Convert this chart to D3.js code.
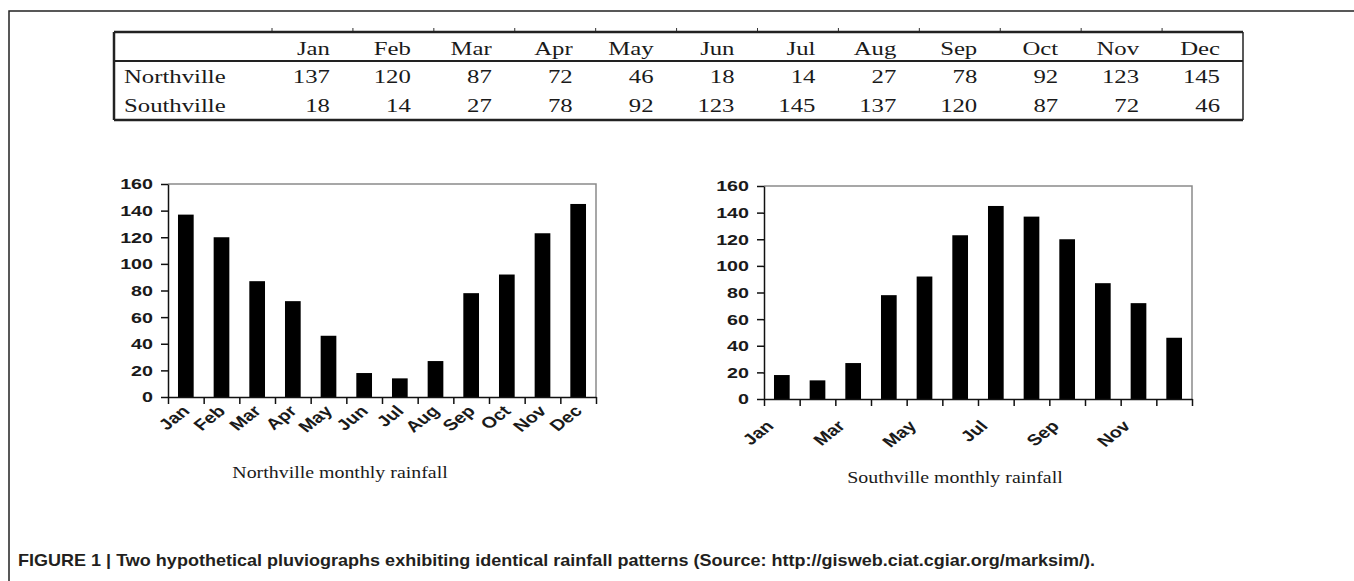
<!DOCTYPE html>
<html><head><meta charset="utf-8">
<script src="https://cdn.jsdelivr.net/npm/d3@7"></script>
<style>html,body{margin:0;padding:0;background:#fff;} svg{display:block;}</style>
</head><body>
<svg id="fig" width="1354" height="581"></svg>
<script>
// ---------- data ----------
const months = ["Jan","Feb","Mar","Apr","May","Jun","Jul","Aug","Sep","Oct","Nov","Dec"];
const northville = [137,120,87,72,46,18,14,27,78,92,123,145];
const southville = [18,14,27,78,92,123,145,137,120,87,72,46];
const rowNames = ["Northville","Southville"];
const yTicks = [0,20,40,60,80,100,120,140,160];
const leftTitle = "Northville monthly rainfall";
const rightTitle = "Southville monthly rainfall";
const captionText = "FIGURE 1 | Two hypothetical pluviographs exhibiting identical rainfall patterns (Source: http://gisweb.ciat.cgiar.org/marksim/).";
const rightLabelEvery = 2;

// ---------- setup ----------
const SX = 1.27; // horizontal stretch of the original raster
const svg = d3.select("#fig");
const ink = "#1a1a1a";
const serif = "'Liberation Serif','Times New Roman',serif";
const sans = "'Liberation Sans',Arial,sans-serif";

// outer frame (top + left)
svg.append("path").attr("d","M1354,11H9V581").attr("fill","none").attr("stroke","#222").attr("stroke-width",1.5);

// ---------- table ----------
const T = {x0:114, x1:1243, y0:32, y1:120, ySep:61, firstCol:272};
const colX = d3.scaleLinear().domain([0, months.length]).range([T.firstCol, T.x1]);
const tg = svg.append("g");
tg.selectAll("line.tk").data(d3.range(0, months.length)).join("line")
  .attr("x1", d=>colX(d)).attr("x2", d=>colX(d)).attr("y1", T.y0-4).attr("y2", T.y0)
  .attr("stroke","#333").attr("stroke-width",1);
tg.append("line").attr("x1",T.x0).attr("x2",T.x1).attr("y1",T.y0).attr("y2",T.y0).attr("stroke","#222").attr("stroke-width",2.5);
tg.append("line").attr("x1",T.x0).attr("x2",T.x1).attr("y1",T.ySep).attr("y2",T.ySep).attr("stroke","#222").attr("stroke-width",2);
tg.append("line").attr("x1",T.x0).attr("x2",T.x1).attr("y1",T.y1).attr("y2",T.y1).attr("stroke","#222").attr("stroke-width",2.5);
tg.append("line").attr("x1",T.x0).attr("x2",T.x0).attr("y1",T.y0).attr("y2",T.y1).attr("stroke","#222").attr("stroke-width",2.5);
tg.append("line").attr("x1",T.x1).attr("x2",T.x1).attr("y1",T.y0).attr("y2",T.y1).attr("stroke","#222").attr("stroke-width",1.5);

function stext(g, x, y, txt, anchor, font, size, weight, extra, sx) {
  return g.append("text")
    .attr("transform", `translate(${x},${y}) scale(${sx||SX},1)` + (extra||""))
    .attr("text-anchor", anchor).attr("font-family", font).attr("font-size", size)
    .attr("font-weight", weight||"normal").attr("fill", ink).text(txt);
}
const tFont = 19.5;
const rowBase = [55, 83, 112];
months.forEach((m,i)=>{
  const xr = colX(i+1) - 23;
  stext(tg, xr, rowBase[0], m, "end", serif, tFont);
  stext(tg, xr, rowBase[1], northville[i], "end", serif, tFont);
  stext(tg, xr, rowBase[2], southville[i], "end", serif, tFont);
});
rowNames.forEach((r,j)=> stext(tg, 124, rowBase[j+1], r, "start", serif, tFont));

// ---------- charts ----------
function drawChart(cfg) {
  const g = svg.append("g");
  const y = d3.scaleLinear().domain([0,160]).range([cfg.yBot, cfg.yTop]);
  const xb = d3.scaleBand().domain(months).range([cfg.x0, cfg.x1]).paddingInner(0.56).paddingOuter(0.28);
  const xi = d3.scaleLinear().domain([0, months.length]).range([cfg.x0, cfg.x1]);

  g.append("path").attr("d",`M${cfg.x0},${cfg.yTop}H${cfg.x1}V${cfg.yBot}`)
    .attr("fill","none").attr("stroke","#8a8a8a").attr("stroke-width",1.5);

  g.selectAll("rect").data(cfg.values).join("rect")
    .attr("x", (d,i)=>xb(months[i])).attr("width", xb.bandwidth())
    .attr("y", d=>y(d)).attr("height", d=>cfg.yBot - y(d)).attr("fill","#000");

  const ya = g.append("g").attr("transform",`translate(${cfg.x0},0)`)
    .call(d3.axisLeft(y).tickValues(yTicks).tickSize(7).tickSizeOuter(0).tickPadding(8));
  ya.select(".domain").attr("stroke","#111").attr("stroke-width",1.5);
  ya.selectAll(".tick line").attr("stroke","#111").attr("stroke-width",1.5);
  ya.selectAll(".tick text").attr("x", -15/SX).attr("transform",`scale(${SX},1)`)
    .attr("font-family", sans).attr("font-size", 15.5).attr("font-weight","bold").attr("fill", ink);

  const xa = g.append("g").attr("transform",`translate(0,${cfg.yBot})`)
    .call(d3.axisBottom(xi).tickValues(d3.range(months.length+1)).tickSize(7).tickSizeOuter(0).tickFormat(""));
  xa.select(".domain").attr("stroke","#111").attr("stroke-width",1.5);
  xa.selectAll(".tick line").attr("stroke","#111").attr("stroke-width",1.5);

  months.forEach((m,i)=>{
    if (i % cfg.every !== 0) return;
    const cx = xb(m) + xb.bandwidth()/2 + cfg.ldx;
    stext(g, cx, cfg.yBot + cfg.ldy, m, "end", sans, 15.5, "bold", " rotate(-45)");
  });

  stext(g, cfg.tx, cfg.ty, cfg.title, "middle", serif, 17, "normal", "", 1.17);
}

drawChart({x0:168, x1:596, yTop:184, yBot:397, values:northville, every:1, ldx:5, ldy:15, title:leftTitle, tx:340, ty:478});
drawChart({x0:764, x1:1192, yTop:186, yBot:399, values:southville, every:rightLabelEvery, ldx:-7, ldy:28, title:rightTitle, tx:955, ty:483});

// ---------- caption ----------
svg.append("text").attr("x",18).attr("y",566)
  .attr("font-family", sans).attr("font-size",17).attr("font-weight","bold").attr("fill","#231f20")
  .attr("textLength",1077).attr("lengthAdjust","spacingAndGlyphs").text(captionText);
</script>
</body></html>
